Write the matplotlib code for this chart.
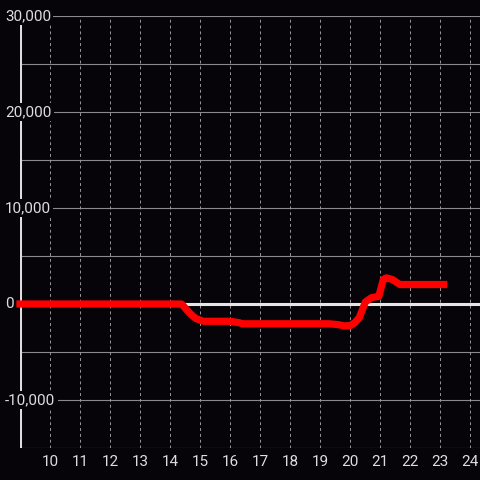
import matplotlib
matplotlib.use("Agg")
import matplotlib.pyplot as plt

# series
hours = [8.88, 14.38, 14.55, 14.7, 14.85, 15.1, 16.0, 16.3, 16.4, 19.3, 19.6, 19.8,
         20.0, 20.15, 20.3, 20.5, 20.7, 20.95, 21.1, 21.2, 21.4, 21.65, 23.23]
values = [0, 0, -600, -1100, -1500, -1800, -1800, -1950, -2060, -2060, -2150, -2280,
          -2250, -1950, -1430, 200, 650, 800, 2550, 2720, 2550, 2030, 2030]

x_ticks = list(range(10, 25))
y_ticks = [30000, 20000, 10000, 0, -10000]
y_grid = [30000, 25000, 20000, 15000, 10000, 5000, -5000, -10000, -15000]

BG = '#060409'
FG = '#dddddd'
plt.rcParams['font.family'] = ['Roboto', 'DejaVu Sans']

fig = plt.figure(figsize=(4.8, 4.8), dpi=100, facecolor=BG)
ax = fig.add_axes([20 / 480, 32 / 480, 460 / 480, 432 / 480])
ax.set_facecolor(BG)
ax.set_xlim(9, 24.32)
ax.set_ylim(-15000, 30000)

for s in ax.spines.values():
    s.set_visible(False)
ax.set_yticks([])
ax.set_xticks(x_ticks)
ax.tick_params(axis='x', length=0, pad=5, colors=FG, labelsize=11)

# grid
for yv in y_grid:
    ax.axhline(yv, color='#8a8a8a', lw=0.8, zorder=1)
for xv in x_ticks:
    ax.axvline(xv, color='#999999', lw=0.7, ls=(0, (3, 3)), zorder=1)
ax.axhline(0, color='#e6e6e6', lw=2.2, zorder=2)
ax.axvline(9, color=FG, lw=2.2, zorder=2)

ax.plot(hours, values, color='#ff0000', lw=5.2, solid_joinstyle='round',
        solid_capstyle='butt', zorder=4, clip_on=False)

# y labels on black boxes over the axis line
for yv in y_ticks:
    ax.annotate(f"{yv:,}", xy=(0, yv), xycoords=('figure pixels', 'data'),
                xytext=(5, 0), textcoords='offset pixels', ha='left', va='center',
                color=FG, fontsize=11, zorder=3, annotation_clip=False,
                bbox=dict(boxstyle='square,pad=0.15', fc=BG, ec='none'))

fig.savefig("out.png", dpi=100, facecolor=BG)
